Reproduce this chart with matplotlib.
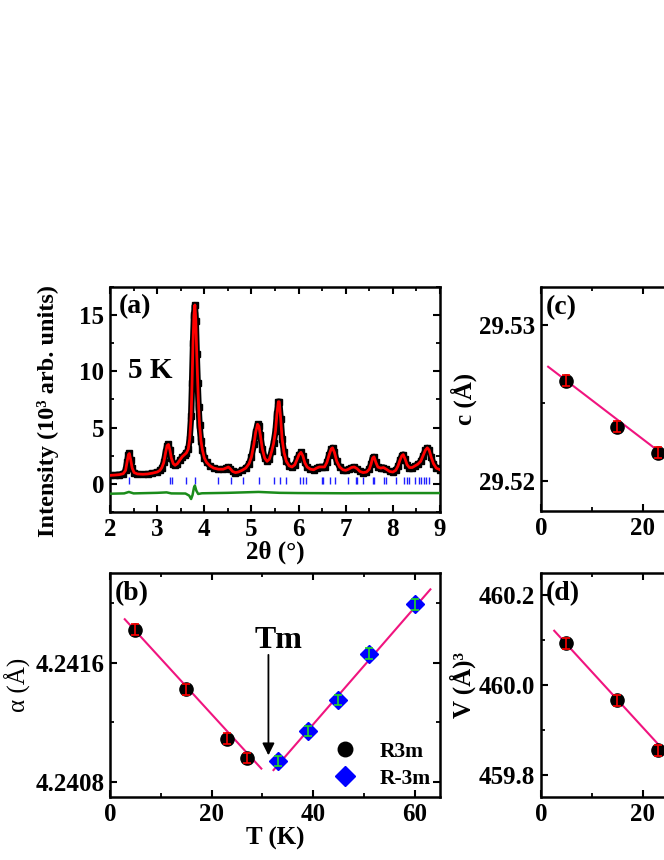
import matplotlib
matplotlib.use("Agg")
import matplotlib.pyplot as plt
from matplotlib.ticker import FixedLocator, MultipleLocator

# panel (a): powder pattern at 5 K
two_theta = [2.00, 2.10, 2.20, 2.28, 2.33, 2.36, 2.39, 2.41, 2.44, 2.47, 2.51, 2.58,
             2.70, 2.80, 2.90, 3.00, 3.06, 3.10, 3.14, 3.18, 3.21, 3.24, 3.27, 3.30,
             3.34, 3.38, 3.43, 3.48, 3.53, 3.58, 3.62, 3.66, 3.69, 3.72, 3.74, 3.76,
             3.78, 3.80, 3.82, 3.84, 3.86, 3.88, 3.90, 3.93, 3.96, 4.00, 4.05, 4.12,
             4.20, 4.30, 4.40, 4.46, 4.51, 4.55, 4.60, 4.66, 4.72, 4.80, 4.88, 4.95,
             5.00, 5.05, 5.09, 5.13, 5.16, 5.19, 5.23, 5.28, 5.33, 5.38, 5.43, 5.47,
             5.51, 5.54, 5.57, 5.59, 5.62, 5.65, 5.69, 5.74, 5.80, 5.86, 5.92, 5.97,
             6.01, 6.05, 6.09, 6.13, 6.18, 6.25, 6.32, 6.38, 6.44, 6.50, 6.55, 6.60,
             6.65, 6.69, 6.72, 6.76, 6.81, 6.87, 6.94, 7.00, 7.06, 7.12, 7.18, 7.24,
             7.30, 7.37, 7.44, 7.50, 7.54, 7.57, 7.60, 7.64, 7.68, 7.74, 7.80, 7.86,
             7.93, 8.00, 8.06, 8.11, 8.15, 8.19, 8.22, 8.26, 8.30, 8.35, 8.41, 8.47,
             8.53, 8.59, 8.64, 8.69, 8.73, 8.77, 8.81, 8.86, 8.92, 9.00]
i_obs = [0.75, 0.78, 0.82, 0.90, 1.2, 1.9, 2.6, 2.7, 2.1, 1.4, 1.0, 0.88,
         0.85, 0.88, 0.95, 1.05, 1.2, 1.45, 1.9, 2.8, 3.4, 3.5, 3.0, 2.3,
         1.8, 1.65, 1.8, 2.1, 2.4, 2.6, 2.75, 3.1, 4.0, 6.0, 9.0, 12.5,
         15.0, 15.9, 14.5, 11.5, 9.0, 6.8, 5.2, 3.8, 3.0, 2.3, 1.9, 1.6,
         1.4, 1.3, 1.3, 1.4, 1.5, 1.35, 1.1, 1.0, 1.05, 1.2, 1.4, 1.8,
         2.4, 3.5, 4.6, 5.3, 5.1, 4.3, 3.1, 2.3, 2.0, 2.2, 2.9, 3.6,
         4.7, 6.2, 7.3, 7.3, 5.8, 4.0, 2.8, 2.0, 1.6, 1.5, 1.7, 2.2,
         2.6, 2.8, 2.5, 1.9, 1.5, 1.3, 1.25, 1.4, 1.5, 1.5, 1.5, 1.9,
         2.6, 3.1, 3.2, 2.8, 2.0, 1.5, 1.25, 1.2, 1.3, 1.45, 1.5, 1.35,
         1.1, 1.0, 1.05, 1.3, 1.8, 2.3, 2.4, 1.9, 1.5, 1.4, 1.45, 1.3,
         1.1, 1.05, 1.2, 1.6, 2.1, 2.5, 2.6, 2.2, 1.7, 1.45, 1.45, 1.6,
         1.75, 2.0, 2.5, 3.0, 3.2, 3.0, 2.4, 1.8, 1.4, 1.25]

diff_tt = [2.0, 2.3, 2.4, 2.5, 3.0, 3.2, 3.3, 3.6, 3.68, 3.72, 3.75, 3.78, 3.80,
           3.83, 3.87, 3.95, 4.5, 5.15, 5.6, 6.0, 7.0, 8.0, 9.0]
diff_i = [-0.88, -0.85, -0.72, -0.85, -0.8, -0.76, -0.85, -0.86, -1.05, -1.35, -1.0,
          -0.35, -0.15, -0.6, -0.9, -0.84, -0.8, -0.72, -0.8, -0.82, -0.84, -0.82, -0.82]

bragg = [2.40, 3.27, 3.31, 3.62, 3.81, 4.30, 4.57, 4.83, 5.16, 5.48, 5.61, 5.73,
         6.04, 6.10, 6.15, 6.49, 6.51, 6.67, 6.77, 7.05, 7.21, 7.24, 7.37, 7.57,
         7.60, 7.82, 7.85, 8.06, 8.24, 8.29, 8.34, 8.46, 8.56, 8.60, 8.66, 8.71, 8.77]

# panel (b): lattice parameter vs T
t_r3m = [5, 15, 23, 27]
a_r3m = [4.24182, 4.24142, 4.24109, 4.24096]
t_rm3m = [33, 39, 45, 51, 60]
a_rm3m = [4.24094, 4.24114, 4.24135, 4.24166, 4.24199]
a_err = 0.000035
fit_lo_t = [2.9, 29.8]
fit_lo_a = [4.24189, 4.24089]
fit_hi_t = [32.2, 63.1]
fit_hi_a = [4.24088, 4.24209]

# panels (c), (d)
t_cd = [5, 15, 23]
c_val = [29.52643, 29.52348, 29.52181]
c_err = 0.00035
fit_c_t = [1.4, 30]
fit_c = [29.52731, 29.52022]
v_val = [460.093, 459.966, 459.854]
v_err = 0.012
fit_v_t = [2.6, 30]
fit_v = [460.121, 459.782]

plt.rcParams['font.family'] = ['Liberation Serif', 'DejaVu Serif']
plt.rcParams['font.weight'] = 'bold'
plt.rcParams['axes.labelweight'] = 'bold'
plt.rcParams['axes.linewidth'] = 1.8
plt.rcParams['mathtext.default'] = 'regular'

FS = 18
PINK = '#f0147f'

fig = plt.figure(figsize=(6.64, 8.60), dpi=100)
ax_a = fig.add_axes([0.1657, 0.4047, 0.497, 0.2616])
ax_b = fig.add_axes([0.1657, 0.0733, 0.497, 0.2605])
ax_c = fig.add_axes([0.8148, 0.4058, 0.497, 0.2605])
ax_d = fig.add_axes([0.8148, 0.0733, 0.497, 0.2605])


def style(ax):
    ax.tick_params(which='both', direction='in', top=True, right=True,
                   labelsize=FS, pad=4)
    ax.tick_params(which='major', length=5, width=1.5)
    ax.tick_params(which='minor', length=3, width=1.3)


# (a)
ax_a.plot(two_theta, i_obs, color='black', lw=4.5, marker='s', ms=4,
          solid_joinstyle='round', zorder=2)
ax_a.plot(two_theta, i_obs, color='red', lw=2, zorder=3)
ax_a.vlines(bragg, 0.0, 0.65, color='#2020ff', lw=1, zorder=3)
ax_a.plot(diff_tt, diff_i, color='#1a8c1a', lw=1.8, zorder=3)
ax_a.set_xlim(2, 9)
ax_a.set_ylim(-2.5, 17.5)
ax_a.xaxis.set_major_locator(MultipleLocator(1))
ax_a.xaxis.set_minor_locator(MultipleLocator(0.5))
ax_a.yaxis.set_major_locator(MultipleLocator(5))
ax_a.yaxis.set_minor_locator(MultipleLocator(2.5))
style(ax_a)
ax_a.set_xlabel('2θ (°)', fontsize=FS, labelpad=0)
ax_a.set_ylabel('Intensity (10³ arb. units)', fontsize=17.5, labelpad=3)
ax_a.yaxis.set_label_coords(-0.155, 0.45)
ax_a.text(0.025, 0.97, '(a)', transform=ax_a.transAxes, fontsize=20,
          va='top', ha='left')
ax_a.text(2.38, 10.1, '5 K', fontsize=21, va='center', ha='left')

# (b)
ax_b.plot(fit_lo_t, fit_lo_a, color=PINK, lw=1.5, zorder=2)
ax_b.plot(fit_hi_t, fit_hi_a, color=PINK, lw=1.5, zorder=2)
ax_b.plot(t_r3m, a_r3m, 'o', color='black', ms=9.5, zorder=3, label='R3m')
ax_b.plot(t_rm3m, a_rm3m, 'D', color='blue', ms=9, zorder=3, label='R-3m')
ax_b.errorbar(t_r3m, a_r3m, yerr=a_err, fmt='none', ecolor='red',
              elinewidth=1.2, capsize=3, capthick=1.2, zorder=4)
ax_b.errorbar(t_rm3m, a_rm3m, yerr=a_err, fmt='none', ecolor='#22dd22',
              elinewidth=1.2, capsize=3, capthick=1.2, zorder=4)
ax_b.annotate('', xy=(31.2, 4.24096), xytext=(31.2, 4.24167),
              arrowprops=dict(arrowstyle='-|>', color='black', lw=1.3,
                              mutation_scale=18))
ax_b.text(33.1, 4.24170, 'Tm', fontsize=23, ha='center', va='baseline')
ax_b.set_xlim(0, 65)
ax_b.set_ylim(4.2407, 4.2422)
ax_b.xaxis.set_major_locator(MultipleLocator(20))
ax_b.xaxis.set_minor_locator(MultipleLocator(10))
ax_b.yaxis.set_major_locator(FixedLocator([4.2408, 4.2416]))
ax_b.yaxis.set_minor_locator(FixedLocator([4.2412, 4.2420]))
ax_b.yaxis.set_major_formatter(matplotlib.ticker.FormatStrFormatter('%.4f'))
style(ax_b)
ax_b.set_xlabel('T (K)', fontsize=FS, labelpad=1)
ax_b.set_ylabel('α (Å)', fontsize=FS, fontweight='normal', labelpad=3)
ax_b.text(0.015, 0.965, '(b)', transform=ax_b.transAxes, fontsize=20,
          va='top', ha='left')
ax_b.legend(loc='lower right', bbox_to_anchor=(1.01, -0.02), frameon=False,
            fontsize=15.5, handletextpad=0.6, labelspacing=0.3,
            borderaxespad=0.2, markerscale=1.1)

# (c)
ax_c.plot(fit_c_t, fit_c, color=PINK, lw=1.5, zorder=2)
ax_c.plot(t_cd, c_val, 'o', color='black', ms=9.5, zorder=3)
ax_c.errorbar(t_cd, c_val, yerr=c_err, fmt='none', ecolor='red',
              elinewidth=1.2, capsize=3, capthick=1.2, zorder=4)
ax_c.set_xlim(0, 65)
ax_c.set_ylim(29.5181, 29.5324)
ax_c.xaxis.set_major_locator(MultipleLocator(20))
ax_c.xaxis.set_minor_locator(MultipleLocator(10))
ax_c.yaxis.set_major_locator(FixedLocator([29.52, 29.53]))
ax_c.yaxis.set_minor_locator(FixedLocator([29.525]))
ax_c.yaxis.set_major_formatter(matplotlib.ticker.FormatStrFormatter('%.2f'))
style(ax_c)
ax_c.set_ylabel('c (Å)', fontsize=FS, labelpad=2)
ax_c.text(0.015, 0.965, '(c)', transform=ax_c.transAxes, fontsize=20,
          va='top', ha='left')

# (d)
ax_d.plot(fit_v_t, fit_v, color=PINK, lw=1.5, zorder=2)
ax_d.plot(t_cd, v_val, 'o', color='black', ms=9.5, zorder=3)
ax_d.errorbar(t_cd, v_val, yerr=v_err, fmt='none', ecolor='red',
              elinewidth=1.2, capsize=3, capthick=1.2, zorder=4)
ax_d.set_xlim(0, 65)
ax_d.set_ylim(459.75, 460.25)
ax_d.xaxis.set_major_locator(MultipleLocator(20))
ax_d.xaxis.set_minor_locator(MultipleLocator(10))
ax_d.yaxis.set_major_locator(FixedLocator([459.8, 460.0, 460.2]))
ax_d.yaxis.set_minor_locator(FixedLocator([459.9, 460.1]))
ax_d.yaxis.set_major_formatter(matplotlib.ticker.FormatStrFormatter('%.1f'))
style(ax_d)
ax_d.set_ylabel('V (Å)³', fontsize=FS, labelpad=2)
ax_d.text(0.015, 0.965, '(d)', transform=ax_d.transAxes, fontsize=20,
          va='top', ha='left')

fig.savefig('out.png', dpi=100)
